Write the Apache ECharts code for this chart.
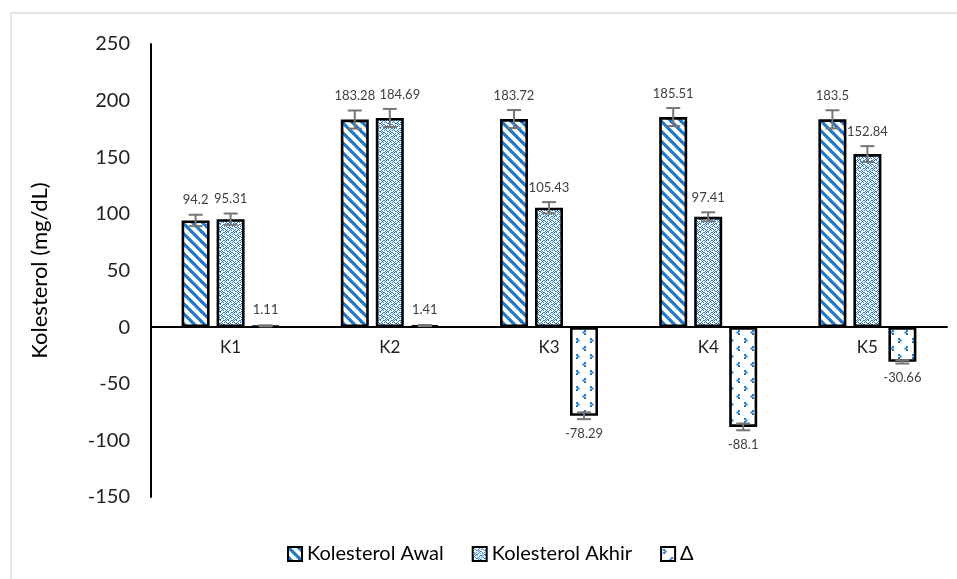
<!DOCTYPE html>
<html>
<head>
<meta charset="utf-8">
<script src="https://cdn.jsdelivr.net/npm/echarts@6/dist/echarts.min.js"></script>
<style>
html,body{margin:0;padding:0;background:#fff;}
#chart{width:957px;height:579px;}
</style>
</head>
<body>
<div id="chart"></div>
<script>
// ---- data ----
const categories = ['K1', 'K2', 'K3', 'K4', 'K5'];
const awal = [94.2, 183.28, 183.72, 185.51, 183.5];
const akhir = [95.31, 184.69, 105.43, 97.41, 152.84];
const delta = [1.11, 1.41, -78.29, -88.1, -30.66];
const awalErr = [5, 8, 8, 8, 8];
const akhirErr = [5, 8, 5, 4, 7];
const deltaErr = [0.5, 0.5, 3, 3, 1.5];
const seriesNames = ['Kolesterol Awal', 'Kolesterol Akhir', 'Δ'];
const yTicks = { min: -150, max: 250, interval: 50 };

const BLUE = '#1F78C8';
const FONT = 'Lato, "Open Sans", "Noto Sans", sans-serif';

function makeStripe() {
  const s = 10;
  const c = document.createElement('canvas');
  c.width = s; c.height = s;
  const g = c.getContext('2d');
  g.fillStyle = '#fff'; g.fillRect(0, 0, s, s);
  g.strokeStyle = BLUE; g.lineWidth = 3.2;
  for (const off of [-s, 0, s]) {
    g.beginPath(); g.moveTo(off - 2, -2); g.lineTo(off + s + 2, s + 2); g.stroke();
  }
  return c;
}
function makeWeave() {
  const c = document.createElement('canvas');
  c.width = 8; c.height = 8;
  const g = c.getContext('2d');
  g.fillStyle = '#fff'; g.fillRect(0, 0, 8, 8);
  g.fillStyle = BLUE;
  const px = [[0,0],[1,1],[2,2],[3,3],[4,3],[5,2],[6,1],[7,0],
              [0,4],[1,5],[2,6],[3,7],[4,7],[5,6],[6,5],[7,4],
              [2,0],[4,0],[0,2],[6,3],[3,5],[1,7],[5,4],[7,6]];
  px.forEach(p => g.fillRect(p[0], p[1], 1, 1));
  return c;
}
function makeDots() {
  const c = document.createElement('canvas');
  c.width = 14; c.height = 16;
  const g = c.getContext('2d');
  g.fillStyle = '#fff'; g.fillRect(0, 0, 14, 16);
  g.fillStyle = BLUE;
  const px = [[2,2],[3.5,3.5],[2,5],[10,10],[8.5,11.5],[10,13]];
  px.forEach(p => g.fillRect(p[0], p[1], 2, 2));
  return c;
}

const patterns = [
  { image: makeStripe(), repeat: 'repeat' },
  { image: makeWeave(), repeat: 'repeat' },
  { image: makeDots(), repeat: 'repeat' }
];
const values = [awal, akhir, delta];
const errs = [awalErr, akhirErr, deltaErr];
const BAR_W = 28, GAP = 7;
const PX_PER_UNIT = 453 / 400;

// labels that would collide with their neighbour get nudged right (as Excel does)
function labelNudge(si, i) {
  if (si === 1 && Math.abs(values[0][i] - values[1][i]) < 5 && values[1][i] > 150) return [10, 0];
  return [0, 0];
}

const series = [];
values.forEach((vals, si) => {
  series.push({
    name: seriesNames[si],
    type: 'bar',
    barWidth: BAR_W,
    barGap: '25%',
    itemStyle: { color: patterns[si], borderColor: '#000', borderWidth: 2.6 },
    data: vals.map((v, i) => ({
      value: v,
      label: {
        position: v >= 0 ? 'top' : 'bottom',
        distance: errs[si][i] * PX_PER_UNIT + 8,
        offset: labelNudge(si, i)
      }
    })),
    label: {
      show: true,
      fontSize: 13,
      color: '#404040',
      fontFamily: FONT,
      formatter: p => String(p.value)
    },
    z: 2
  });
});
values.forEach((vals, si) => {
  series.push({
    type: 'custom',
    name: 'err' + si,
    z: 5,
    silent: true,
    data: vals.map((v, i) => [i, v, errs[si][i]]),
    renderItem: function (params, api) {
      const i = api.value(0), v = api.value(1), e = api.value(2);
      const off = (si - 1) * (BAR_W + GAP);
      const hi = api.coord([i, v + e]);
      const lo = api.coord([i, v - e]);
      const x = hi[0] + off;
      const cw = 7;
      const st = { stroke: '#767676', lineWidth: 2 };
      return {
        type: 'group',
        children: [
          { type: 'line', shape: { x1: x, y1: hi[1], x2: x, y2: lo[1] }, style: st },
          { type: 'line', shape: { x1: x - cw, y1: hi[1], x2: x + cw, y2: hi[1] }, style: st },
          { type: 'line', shape: { x1: x - cw, y1: lo[1], x2: x + cw, y2: lo[1] }, style: st }
        ]
      };
    }
  });
});

const GRID_TOP = 44, GRID_BOTTOM_Y = 497;
// place category axis on the zero line
const zeroOffset = -(GRID_BOTTOM_Y - GRID_TOP) * (yTicks.max - 0) / (yTicks.max - yTicks.min) + (GRID_BOTTOM_Y - GRID_TOP);

const chart = echarts.init(document.getElementById('chart'));
chart.setOption({
  animation: false,
  backgroundColor: '#fff',
  textStyle: { fontFamily: FONT },
  graphic: [{
    type: 'rect', silent: true, z: -10,
    shape: { x: 11, y: 13, width: 960, height: 600 },
    style: { fill: 'none', stroke: '#d9d9d9', lineWidth: 1.5 }
  }],
  grid: { left: 151, right: 10, top: GRID_TOP, bottom: 579 - GRID_BOTTOM_Y },
  legend: {
    data: seriesNames,
    left: 282,
    top: 539,
    itemWidth: 14,
    itemHeight: 14,
    itemGap: 28,
    icon: 'rect',
    textStyle: { fontSize: 20, color: '#000', fontFamily: FONT }
  },
  xAxis: {
    type: 'category',
    data: categories,
    offset: -zeroOffset,
    axisLine: { onZero: false, lineStyle: { color: '#000', width: 2 } },
    axisTick: { show: false },
    axisLabel: { fontSize: 17, color: '#222', margin: 12, fontFamily: FONT },
    z: 1
  },
  yAxis: {
    type: 'value',
    min: yTicks.min, max: yTicks.max, interval: yTicks.interval,
    name: 'Kolesterol (mg/dL)',
    nameLocation: 'middle',
    nameGap: 100,
    nameTextStyle: { fontSize: 22, color: '#000', fontFamily: FONT },
    axisLine: { show: true, lineStyle: { color: '#000', width: 2 } },
    axisTick: { show: false },
    splitLine: { show: false },
    axisLabel: { fontSize: 20, color: '#222', margin: 21, fontFamily: FONT }
  },
  series: series
});
</script>
</body>
</html>
